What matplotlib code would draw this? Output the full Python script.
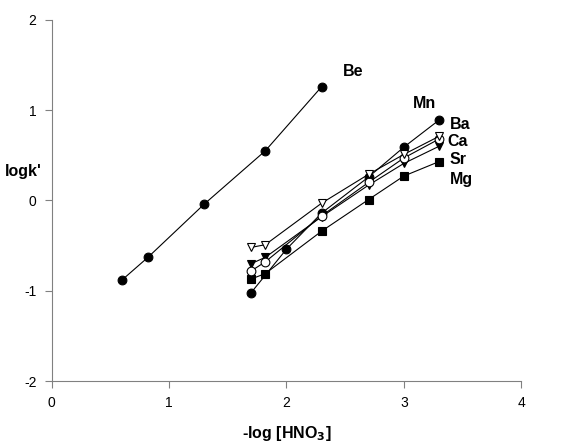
import matplotlib.pyplot as plt

plt.rcParams['font.family'] = ['Liberation Sans', 'DejaVu Sans']
plt.rcParams['axes.unicode_minus'] = False

# -log[HNO3] values and log k' for each metal ion
x_be = [0.6, 0.82, 1.3, 1.82, 2.3]
y_be = [-0.88, -0.63, -0.04, 0.55, 1.26]

x_acid = [1.7, 1.82, 2.3, 2.7, 3.0, 3.3]
x_mn = [1.7, 2.0, 2.3, 2.7, 3.0, 3.3]
y_mn = [-1.02, -0.54, -0.14, 0.26, 0.59, 0.89]
y_ba = [-0.78, -0.68, -0.17, 0.2, 0.47, 0.68]
y_ca = [-0.52, -0.49, -0.03, 0.29, 0.51, 0.71]
y_sr = [-0.7, -0.63, -0.18, 0.17, 0.41, 0.6]
y_mg = [-0.87, -0.81, -0.34, 0.01, 0.27, 0.43]

labels = ['Be', 'Mn', 'Ba', 'Ca', 'Sr', 'Mg']
label_pos = [(2.57, 1.43), (3.18, 1.07), (3.48, 0.84), (3.46, 0.65), (3.46, 0.45), (3.49, 0.23)]

fig = plt.figure(figsize=(5.76, 4.42), dpi=100)
ax = fig.add_axes([0.0898, 0.138, 0.815, 0.817])

kw = dict(color='black', lw=0.8, ms=6.3, mec='black', mew=0.8)
ax.plot(x_be, y_be, 'o', ls='-', mfc='black', **kw)
ax.plot(x_mn, y_mn, 'o', ls='-', mfc='black', **kw)
ax.plot(x_acid, y_mg, 's', ls='-', mfc='black', **kw)
ax.plot(x_acid, y_sr, 'v', ls='-', mfc='black', **kw)
ax.plot(x_acid, y_ba, 'o', ls='-', mfc='white', **kw)
ax.plot(x_acid, y_ca, 'v', ls='-', mfc='white', **kw)

for lab, (tx, ty) in zip(labels, label_pos):
    ax.text(tx, ty, lab, fontsize=11.5, fontweight='bold', ha='center', va='center')

ax.set_xlim(0, 4)
ax.set_ylim(-2, 2)
ax.set_xticks([0, 1, 2, 3, 4])
ax.set_yticks([-2, -1, 0, 1, 2])
ax.spines['top'].set_visible(False)
ax.spines['right'].set_visible(False)
for s in ['left', 'bottom']:
    ax.spines[s].set_color('#808080')
ax.tick_params(direction='out', length=5, color='#808080', labelsize=10, pad=6)

ax.set_ylabel("logk'", fontsize=11.5, fontweight='bold', rotation=0)
ax.yaxis.set_label_coords(-0.06, 0.56)
ax.set_xlabel('-log [HNO$_\\mathbf{3}$]', fontsize=11.5, fontweight='bold', labelpad=10)

fig.savefig('out.png', dpi=100)
